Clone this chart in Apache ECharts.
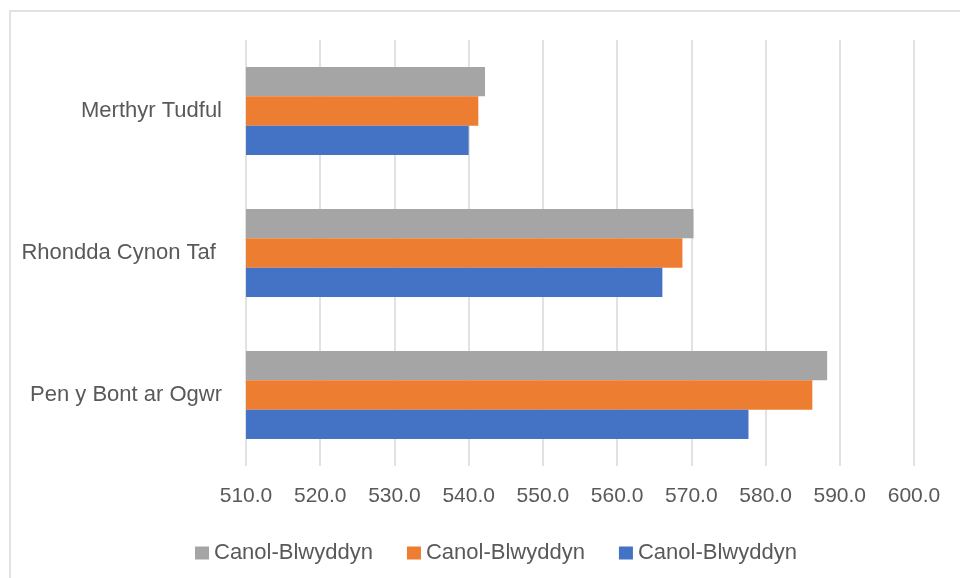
<!DOCTYPE html>
<html>
<head>
<meta charset="utf-8">
<script src="https://cdn.jsdelivr.net/npm/echarts@6/dist/echarts.min.js"></script>
<style>
  html, body { margin: 0; padding: 0; background: #fff; }
  #chart { width: 960px; height: 578px; }
</style>
</head>
<body>
<div id="chart"></div>
<script>
var categories = ['Pen y Bont ar Ogwr', 'Rhondda Cynon Taf ', 'Merthyr Tudful'];
var seriesKeys = ['gray', 'orange', 'blue'];
var seriesLabel = 'Canol-Blwyddyn';
var grayValues = [588.3, 570.3, 542.2];
var orangeValues = [586.3, 568.8, 541.3];
var blueValues = [577.7, 566.1, 540.0];
var colors = ['#a5a5a5', '#ed7d31', '#4472c4'];

var chartDom = document.getElementById('chart');
var myChart = echarts.init(chartDom);
var font = '"Liberation Sans", Arial, sans-serif';

function barSeries(idx, data) {
  return {
    name: seriesKeys[idx],
    type: 'bar',
    data: data,
    barGap: '0%',
    barCategoryGap: '38%',
    itemStyle: { color: colors[idx] },
    animation: false
  };
}

var option = {
  textStyle: { fontFamily: font },
  graphic: [{
    type: 'rect',
    shape: { x: 10, y: 11, width: 1000, height: 700 },
    style: { fill: 'none', stroke: '#d9d9d9', lineWidth: 1.5 },
    silent: true
  }],
  grid: { left: 246, right: 46, top: 40, bottom: 112 },
  legend: {
    data: seriesKeys,
    left: 190,
    top: 537,
    itemWidth: 14,
    itemHeight: 13,
    itemGap: 34,
    icon: 'rect',
    formatter: function () { return seriesLabel; },
    textStyle: { fontSize: 22, color: '#595959', fontFamily: font }
  },
  xAxis: {
    type: 'value',
    min: 510,
    max: 600,
    interval: 10,
    axisLine: { show: false },
    axisTick: { show: false },
    splitLine: { lineStyle: { color: '#d9d9d9', width: 1.5 } },
    axisLabel: {
      fontSize: 21,
      color: '#595959',
      margin: 20,
      formatter: function (v) { return v.toFixed(1); }
    }
  },
  yAxis: {
    type: 'category',
    data: categories,
    axisLine: { show: false },
    axisTick: { show: false },
    axisLabel: { fontSize: 22, color: '#595959', margin: 24 }
  },
  series: [
    barSeries(0, grayValues),
    barSeries(1, orangeValues),
    barSeries(2, blueValues)
  ]
};

option && myChart.setOption(option);
</script>
</body>
</html>
